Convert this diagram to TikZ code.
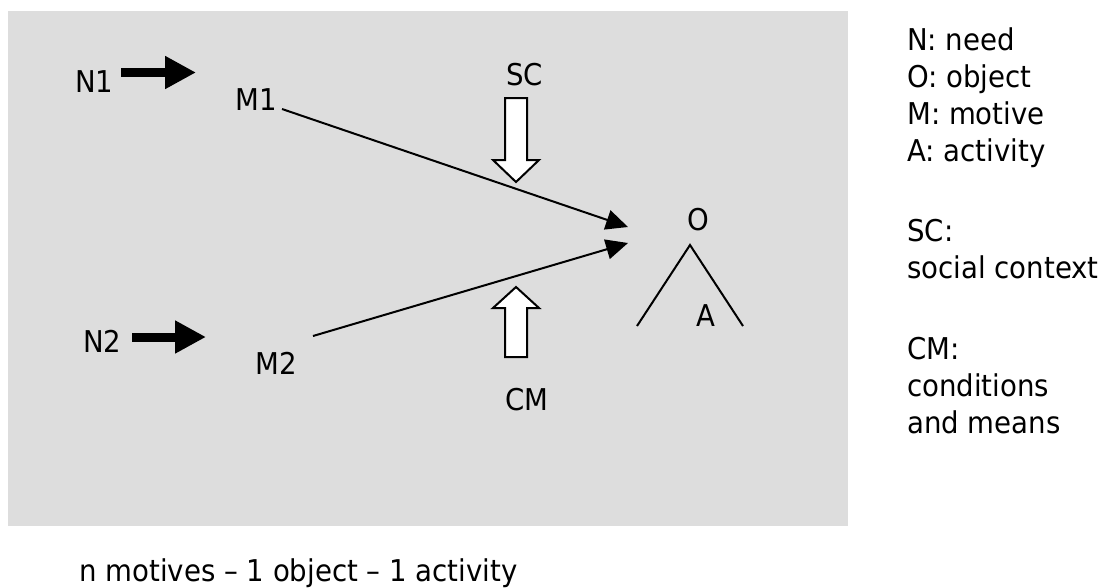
\documentclass[tikz,border=0pt]{standalone}
\usepackage{fontspec}
\setmainfont{DejaVu Sans}[FakeStretch=0.92]
\usetikzlibrary{arrows.meta}
\definecolor{boxgray}{HTML}{DDDDDD}
\tikzset{
  lbl/.style={font=\fontsize{30}{37}\selectfont, inner sep=0pt, anchor=base west},
  thickarrow/.style={line width=9pt, -{Triangle[length=31pt,width=31pt]}},
  thinarrow/.style={line width=2pt, -{Triangle[length=22pt,width=20pt]}},
  blockarrow/.style={draw=black, line width=2pt, fill=white, line join=miter},
  treeline/.style={line width=2pt}
}
\begin{document}
\begin{tikzpicture}[x=1pt,y=-1pt]
\useasboundingbox (0,0) rectangle (1099,587);
\fill[boxgray] (8,11) rectangle (848,526);
% nodes
\node[lbl] (N1) at (75,92) {N1};
\node[lbl] (M1) at (235,110) {M1};
\node[lbl] (N2) at (83,352) {N2};
\node[lbl] (M2) at (255,374) {M2};
\node[lbl] (SC) at (506,85) {SC};
\node[lbl] (CM) at (505,410) {CM};
\node[lbl] (O) at (687,230) {O};
\node[lbl] (A) at (696,326) {A};
\coordinate (n1start) at (121,72.5);
\coordinate (n1end) at (196,72.5);
\coordinate (n2start) at (132,337);
\coordinate (n2end) at (206,337);
\coordinate (m1start) at (282,109);
\coordinate (m2start) at (313,336);
\coordinate (tip1) at (628,227);
\coordinate (tip2) at (628,243);
\coordinate (apex) at (690,245);
\coordinate (leftfoot) at (637,326);
\coordinate (rightfoot) at (743,326);
% connectors
\draw[thickarrow] (n1start) -- (n1end);
\draw[thickarrow] (n2start) -- (n2end);
\draw[thinarrow] (m1start) -- (tip1);
\draw[thinarrow] (m2start) -- (tip2);
\draw[treeline] (leftfoot) -- (apex) -- (rightfoot);
% block arrows
\draw[blockarrow] (505,98) -- (527,98) -- (527,160) -- (539,160) -- (516,182) -- (493,160) -- (505,160) -- cycle;
\draw[blockarrow] (505,357) -- (527,357) -- (527,308) -- (539,308) -- (516,287) -- (493,308) -- (505,308) -- cycle;
% legend
\node[lbl, anchor=north west, align=left] (legend) at (907,27.2) {N: need\\O: object\\M: motive\\A: activity\\[43.5pt]SC:\\social context\\[43.5pt]CM:\\conditions\\and means};
\node[lbl] (caption) at (79,581) {n motives -- 1 object -- 1 activity};
\end{tikzpicture}
\end{document}
